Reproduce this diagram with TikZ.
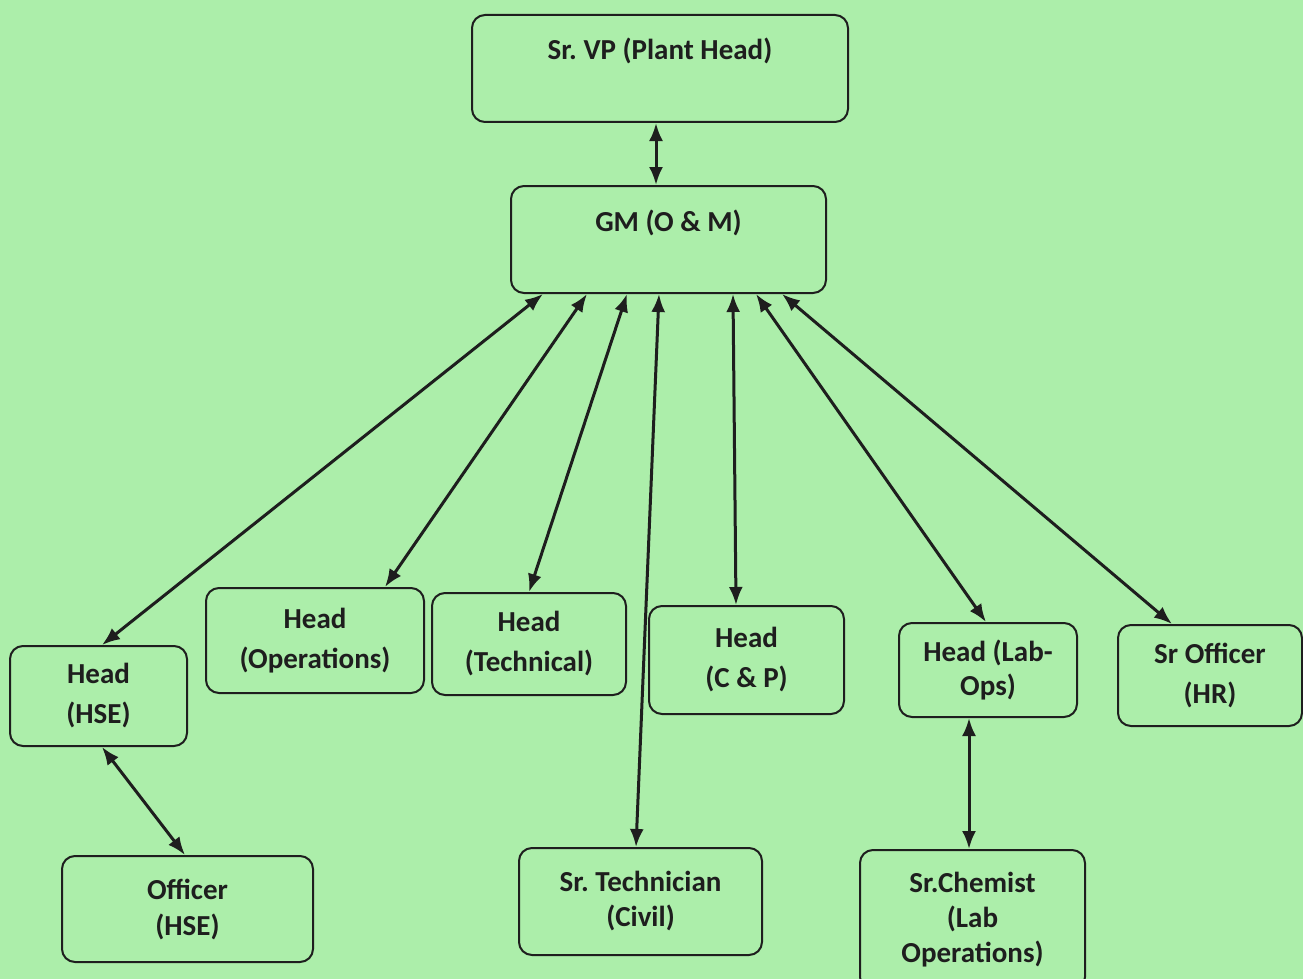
\documentclass[tikz,border=0pt]{standalone}
\usepackage{fontspec}
\setmainfont{Carlito}
\frenchspacing
\usetikzlibrary{arrows.meta,calc}
\definecolor{bg}{RGB}{172,238,170}
\definecolor{ink}{RGB}{30,30,30}
\tikzset{
  box/.style={draw=ink, line width=2pt, rounded corners=13pt, inner sep=0pt,
    align=center, text=ink, font={\fontsize{29}{40}\selectfont\bfseries}},
  topbox/.style={box, text height=45pt, text depth=62pt},
  arr/.style={draw=ink, line width=3pt, {Latex[length=18pt,width=14pt]}-{Latex[length=18pt,width=14pt]}}
}
\begin{document}
\begin{tikzpicture}[x=1pt,y=-1pt]
\useasboundingbox (0,0) rectangle (1303,979);
\fill[bg] (0,0) rectangle (1303,979);
\clip (0,0) rectangle (1303,979);

\node[topbox, minimum width=376pt] (vp) at (660,68.5) {Sr. VP (Plant Head)};
\node[topbox, minimum width=315pt] (gm) at (668.5,239.5) {GM (O \& M)};

\node[box, minimum width=177pt, minimum height=100pt] (hse) at (98.5,696) {Head\\(HSE)};
\node[box, minimum width=218pt, minimum height=105pt] (ops) at (315,640.5) {Head\\(Operations)};
\node[box, minimum width=194pt, minimum height=102pt] (tech) at (529,644) {Head\\(Technical)};
\node[box, minimum width=195pt, minimum height=108pt] (cp) at (746.5,660) {Head\\(C \& P)};
\node[box, minimum width=178pt, minimum height=94pt, font={\fontsize{29}{34}\selectfont\bfseries}] (lab) at (988,670) {Head (Lab-\\Ops)};
\node[box, minimum width=184pt, minimum height=101pt] (hr) at (1210,675.5) {Sr Officer\\(HR)};

\node[box, minimum width=251pt, minimum height=106pt, font={\fontsize{29}{36}\selectfont\bfseries}] (off) at (187.5,909) {Officer\\(HSE)};
\node[box, minimum width=243pt, minimum height=107pt, font={\fontsize{29}{35}\selectfont\bfseries}] (techn) at (640.5,901.5) {Sr. Technician\\(Civil)};
\node[box, minimum width=225pt, minimum height=140pt, font={\fontsize{29}{35}\selectfont\bfseries}] (chem) at (972.5,920) {Sr.Chemist\\(Lab\\Operations)};

\draw[arr] ([xshift=-4pt]vp.south) -- ([xshift=-4pt]vp.south |- gm.north);

\draw[arr] ([xshift=33pt]gm.south west) -- ([xshift=93pt]hse.north west);
\draw[arr] ([xshift=77pt]gm.south west) -- ([xshift=180pt]ops.north west);
\draw[arr] ([xshift=117pt]gm.south west) -- ([xshift=98pt]tech.north west);
\draw[arr] ([xshift=149pt]gm.south west) -- ([xshift=118pt]techn.north west);
\draw[arr] ([xshift=223pt]gm.south west) -- ([xshift=88pt]cp.north west);
\draw[arr] ([xshift=246pt]gm.south west) -- ([xshift=88pt]lab.north west);
\draw[arr] ([xshift=272pt]gm.south west) -- ([xshift=55pt]hr.north west);

\draw[arr] ([xshift=93pt]hse.south west) -- ([xshift=124pt]off.north west);
\draw[arr] ([xshift=71pt]lab.south west) -- ([xshift=71pt]lab.south west |- chem.north);
\end{tikzpicture}
\end{document}
